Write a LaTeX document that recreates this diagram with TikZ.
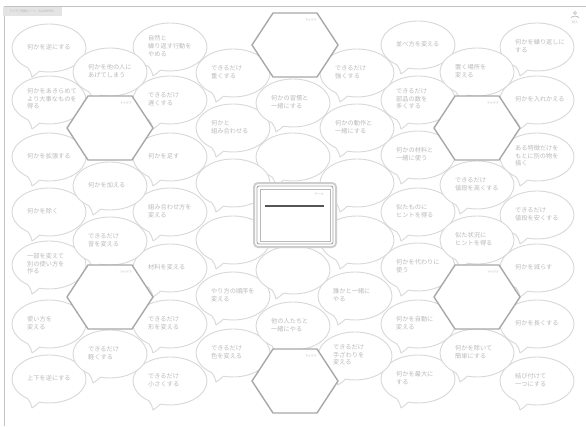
\documentclass[tikz,border=0pt]{standalone}
\usepackage{fontspec}
\setmainfont{Noto Sans CJK JP}
\definecolor{bubc}{RGB}{216,216,216}
\definecolor{txtc}{RGB}{186,186,186}
\definecolor{hexc}{RGB}{168,168,168}
\definecolor{tinyc}{RGB}{180,180,180}
\definecolor{framec}{RGB}{195,195,195}
\definecolor{labelc}{RGB}{228,228,228}
\definecolor{boxa}{RGB}{205,205,205}
\definecolor{boxb}{RGB}{165,165,165}
\definecolor{boxc}{RGB}{185,185,185}
\definecolor{barc}{RGB}{85,85,85}
\tikzset{
  bubline/.style={draw=bubc, fill=white, line width=0.9pt, line join=round},
  btext/.style={anchor=west, align=left, font=\fontsize{6.2}{7.6}\selectfont, text=txtc, inner sep=0pt},
  hexline/.style={draw=hexc, fill=white, line width=1.4pt, line join=round},
  tinytext/.style={font=\fontsize{3}{3.5}\selectfont, text=tinyc, inner sep=0pt},
}
\newcommand\bub[4]{%
  \begin{scope}[shift={(#2,#3)}]
    \filldraw[bubline] (-21.22,19.66)
      arc[start angle=125,end angle=465,x radius=37,y radius=24]
      .. controls (-12,25) and (-14,27.5) .. (-17,29)
      .. controls (-17.5,25.5) and (-19,22.5) .. (-21.22,19.66) -- cycle;
    \node[btext] (#1) at (-22,-1) {#4};
  \end{scope}}
\newcommand\hexa[3]{%
  \begin{scope}[shift={(#2,#3)}]
    \filldraw[hexline] (-43,0) -- (-22,-32) -- (22,-32) -- (43,0) -- (22,32) -- (-22,32) -- cycle;
    \node[tinytext] (#1) at (16,-25) {アイデア};
  \end{scope}}
\begin{document}
\begin{tikzpicture}[x=1pt,y=-1pt]
\useasboundingbox (0,0) rectangle (586,426);
\fill[white] (0,0) rectangle (586,426);
\draw[framec, line width=0.8pt] (4,426) -- (4,6) -- (586,6);
\node[fill=labelc, minimum width=59pt, minimum height=9pt, inner sep=0pt,
      font=\fontsize{3}{3.5}\selectfont, text=tinyc] (label) at (32.5,11.5) {アイデア発想シート（SCAMPER）};
% small icon top right
\node[circle, draw=tinyc, line width=0.6pt, inner sep=0pt, minimum size=3pt] (icon) at (575,13) {};
\draw[tinyc, line width=0.6pt] (571,18) .. controls (572,15.5) and (578,15.5) .. (579,18);
\node[tinytext] (iconlbl) at (575,22) {記入};
% outer columns
\bub{a1}{49}{48}{何かを逆にする}
\bub{a2}{49}{100}{何かをあきらめて\\より大事なものを\\得る}
\bub{a3}{49}{157}{何かを拡張する}
\bub{a4}{49}{212}{何かを除く}
\bub{a5}{49}{265}{一部を変えて\\別の使い方を\\作る}
\bub{a6}{49}{324}{使い方を\\変える}
\bub{a7}{49}{379}{上下を逆にする}
\bub{i1}{537}{47}{何かを繰り返しに\\する}
\bub{i2}{537}{100}{何かを入れかえる}
\bub{i3}{537}{157}{ある特徴だけを\\もとに別の物を\\描く}
\bub{i4}{537}{215}{できるだけ\\値段を安くする}
\bub{i5}{537}{268}{何かを減らす}
\bub{i6}{537}{324}{何かを長くする}
\bub{i7}{537}{381}{結び付けて\\一つにする}
% second columns
\bub{c1}{170}{47}{自然と\\繰り返す行動を\\やめる}
\bub{c2}{170}{100}{できるだけ\\遅くする}
\bub{c3}{170}{157}{何かを足す}
\bub{c4}{170}{212}{組み合わせ方を\\変える}
\bub{c5}{170}{268}{材料を変える}
\bub{c6}{170}{324}{できるだけ\\形を変える}
\bub{c7}{170}{381}{できるだけ\\小さくする}
\bub{g1}{418}{45}{並べ方を変える}
\bub{g2}{418}{100}{できるだけ\\部品の数を\\多くする}
\bub{g3}{418}{155}{何かの材料と\\一緒に使う}
\bub{g4}{418}{212}{似たものに\\ヒントを得る}
\bub{g5}{418}{267}{何かを代わりに\\使う}
\bub{g6}{418}{324}{何かを自動に\\変える}
\bub{g7}{418}{379}{何かを最大に\\する}
% staggered columns
\bub{b1}{110}{72}{何かを他の人に\\あげてしまう}
\bub{b3}{110}{186}{何かを加える}
\bub{b4}{110}{241}{できるだけ\\音を変える}
\bub{b6}{110}{354}{できるだけ\\軽くする}
\bub{h1}{477}{72}{置く場所を\\変える}
\bub{h3}{477}{185}{できるだけ\\値段を高くする}
\bub{h4}{477}{240}{似た状況に\\ヒントを得る}
\bub{h6}{477}{353}{何かを除いて\\簡単にする}
\bub{d1}{233}{73}{できるだけ\\重くする}
\bub{d2}{233}{128}{何かと\\組み合わせる}
\bub{d5}{233}{296}{やり方の順序を\\変える}
\bub{d6}{233}{353}{できるだけ\\色を変える}
\bub{f1}{357}{73}{できるだけ\\強くする}
\bub{f2}{357}{128}{何かの動作と\\一緒にする}
\bub{f5}{355}{296}{誰かと一緒に\\やる}
\bub{f6}{355}{356}{できるだけ\\手ざわりを\\変える}
\bub{e2}{293}{103}{何かの習慣と\\一緒にする}
\bub{e5}{293}{326}{他の人たちと\\一緒にやる}
% inner petals
\bub{p1}{293}{157}{}
\bub{p2}{233}{183}{}
\bub{p3}{357}{183}{}
\bub{p4}{233}{240}{}
\bub{p5}{357}{240}{}
\bub{p6}{293}{270}{}
% hexagons
\hexa{x1}{295}{45}
\hexa{x2}{110}{128}
\hexa{x3}{477}{128}
\hexa{x4}{110}{297}
\hexa{x5}{477}{297}
\hexa{x6}{295}{381}
% central box
\filldraw[draw=boxa, fill=white, line width=2pt, rounded corners=4pt] (254,183) rectangle (336,247);
\draw[boxb, line width=0.9pt, rounded corners=2pt] (257,186) rectangle (333,244);
\draw[boxc, line width=0.9pt] (260,189) rectangle (330,241);
\node[tinytext] (theme) at (319,194) {テーマ};
\coordinate (barL) at (265,206);
\coordinate (barR) at (324,206);
\draw[barc, line width=1.5pt] (barL) -- (barR);
\end{tikzpicture}
\end{document}
